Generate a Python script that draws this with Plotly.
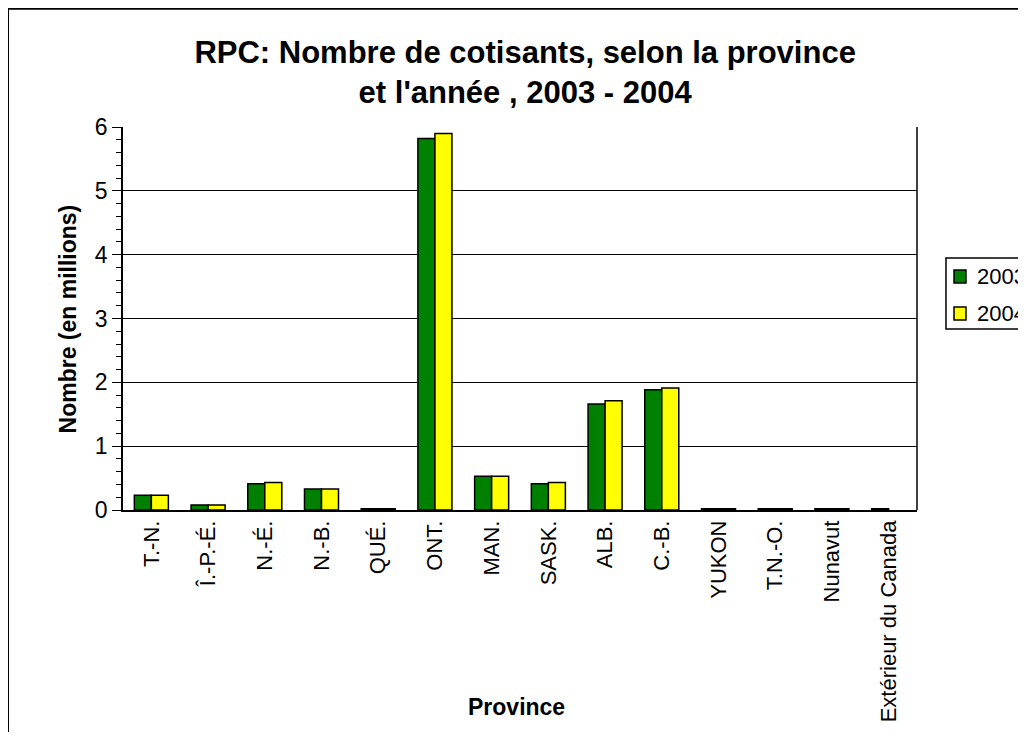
import plotly.graph_objects as go

# Données (en millions)
provinces = ["T.-N.", "Î.-P.-É.", "N.-É.", "N.-B.", "QUÉ.", "ONT.", "MAN.", "SASK.",
             "ALB.", "C.-B.", "YUKON", "T.N.-O.", "Nunavut", "Extérieur du Canada"]
cotisants_2003 = [0.23, 0.08, 0.41, 0.33, 0.02, 5.82, 0.53, 0.41, 1.66, 1.885, 0.02, 0.02, 0.02, 0.02]
cotisants_2004 = [0.23, 0.08, 0.43, 0.33, 0.02, 5.90, 0.53, 0.43, 1.71, 1.91, 0.02, 0.02, 0.02, None]
annees = ["2003", "2004"]
couleurs = ["#008000", "#FFFF00"]
y_ticks = [0, 1, 2, 3, 4, 5, 6]

police = "Liberation Sans, Arial, sans-serif"

fig = go.Figure()

for annee, valeurs, couleur in zip(annees, [cotisants_2003, cotisants_2004], couleurs):
    fig.add_trace(go.Bar(
        x=provinces, y=valeurs, name=annee,
        marker=dict(color=couleur, line=dict(color="black", width=1.5)),
    ))

fig.update_layout(
    width=1018, height=724,
    barmode="group", bargap=0.4, bargroupgap=0,
    plot_bgcolor="white", paper_bgcolor="white",
    font=dict(family=police, color="black", size=22),
    title=dict(
        text="<b>RPC: Nombre de cotisants, selon la province<br>et l'année , 2003 - 2004</b>",
        x=0.508, xanchor="center", y=0.924, yanchor="top",
        font=dict(size=31, family=police),
    ),
    margin=dict(l=115, r=109, t=119, b=222),
    showlegend=False,
)

fig.update_xaxes(
    tickangle=-90, tickfont=dict(size=22), automargin=False,
    showline=True, linecolor="black", linewidth=1.5,
    ticks="", showgrid=False,
)
fig.update_yaxes(
    range=[0, 6], tickvals=y_ticks, tickfont=dict(size=23), automargin=False,
    showline=True, linecolor="black", linewidth=1.5,
    ticks="outside", ticklen=9, tickcolor="black",
    minor=dict(dtick=0.2, ticks="outside", ticklen=5, tickcolor="black", showgrid=False),
    showgrid=True, gridcolor="black", gridwidth=1, zeroline=False,
)

# titres des axes
fig.add_annotation(text="<b>Province</b>", xref="paper", yref="paper",
                   x=0.495, y=-0.514, xanchor="center", yanchor="middle",
                   showarrow=False, font=dict(size=23))
fig.add_annotation(text="<b>Nombre (en millions)</b>", xref="paper", yref="paper",
                   x=-0.0693, y=0.5, xanchor="center", yanchor="middle", textangle=-90,
                   showarrow=False, font=dict(size=23))

# légende (coupée au bord droit comme dans l'original)
fig.add_shape(type="rect", xref="paper", yref="paper",
              x0=1.0365, x1=1.2, y0=0.4726, y1=0.658,
              line=dict(color="black", width=1.5), fillcolor="white")
for i, (annee, couleur) in enumerate(zip(annees, couleurs)):
    dy = i * 0.0965
    fig.add_shape(type="rect", xref="paper", yref="paper",
                  x0=1.0466, x1=1.0617, y0=0.5927 - dy, y1=0.6266 - dy,
                  line=dict(color="black", width=1.5), fillcolor=couleur)
    fig.add_annotation(text=annee, xref="paper", yref="paper",
                       x=1.073, y=0.609 - dy, xanchor="left", yanchor="middle",
                       showarrow=False, font=dict(size=22))

# bordure droite de la zone de tracé et cadre du graphique
fig.add_shape(type="line", xref="paper", yref="paper", x0=1, x1=1, y0=0, y1=1,
              line=dict(color="black", width=1.5))
fig.add_shape(type="rect", xref="paper", yref="paper",
              x0=-0.1448, x1=1.2, y0=-1.0, y1=1.309,
              line=dict(color="black", width=2), layer="below")

fig.write_html("out.html")
